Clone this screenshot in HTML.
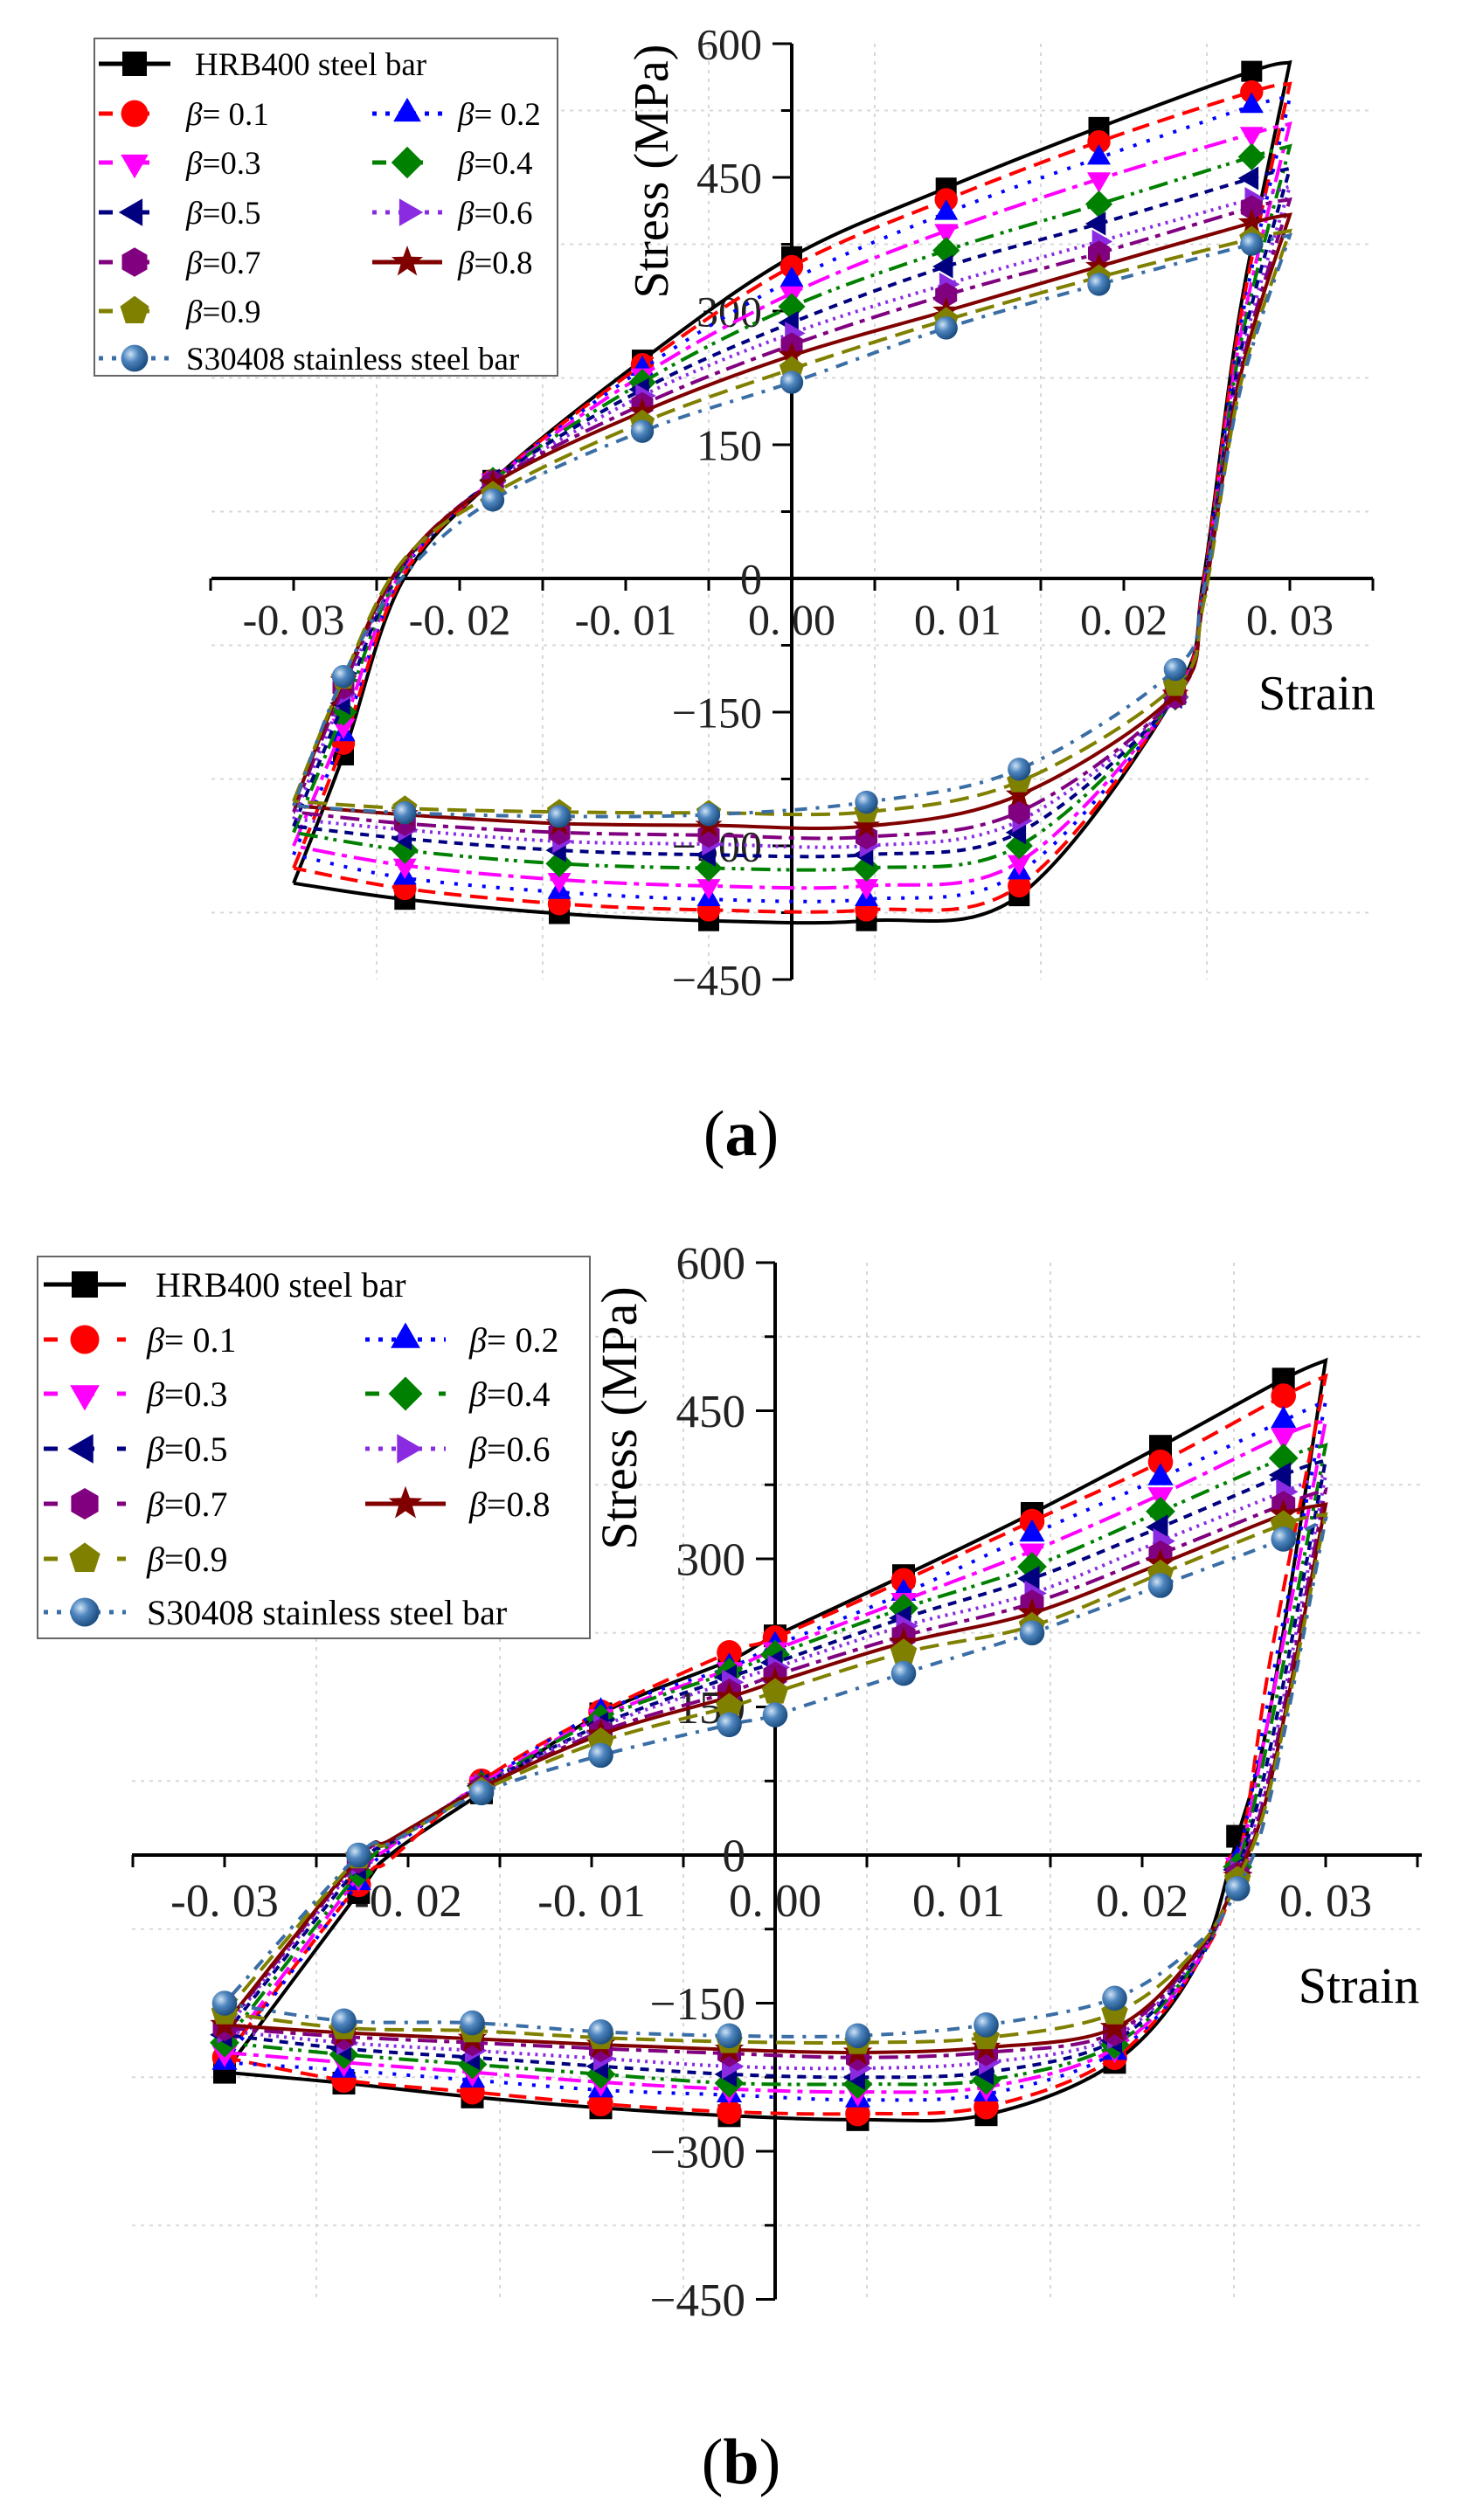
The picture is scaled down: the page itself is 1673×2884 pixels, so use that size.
<!DOCTYPE html>
<html><head><meta charset="utf-8"><style>
html,body{margin:0;padding:0;background:#fff;}
svg{display:block;font-family:"Liberation Serif",serif;}
</style></head><body>
<svg id="fig" width="1673" height="2884" viewBox="0 0 1673 2884" xmlns="http://www.w3.org/2000/svg">
<defs>
<radialGradient id="sph" cx="35%" cy="35%" r="65%"><stop offset="0" stop-color="#cfe3f5"/><stop offset="0.45" stop-color="#4f86bf"/><stop offset="1" stop-color="#1d4f82"/></radialGradient>
</defs>
<g id="pa"></g>
<g id="pb"></g>
<text x="848" y="1322" font-size="74" text-anchor="middle">(<tspan font-weight="bold">a</tspan>)</text>
<text x="848" y="2842" font-size="74" text-anchor="middle">(<tspan font-weight="bold">b</tspan>)</text>
</svg>
<script>
const seriesNames=["HRB400 steel bar","β= 0.1","β= 0.2","β=0.3","β=0.4","β=0.5","β=0.6","β=0.7","β=0.8","β=0.9","S30408 stainless steel bar"];
const xTickLabels=["-0. 03","-0. 02","-0. 01","0. 00","0. 01","0. 02","0. 03"];
const xTickValues=[-0.03,-0.02,-0.01,0,0.01,0.02,0.03];
const yTickValues=[600,450,300,150,0,-150,-300,-450];
// panel a
const aUpStrain=[-0.03,-0.027,-0.0235,-0.018,-0.009,0,0.0093,0.0185,0.0277,0.03];
const aUp=[
[-342,-198,-5,110,245,361,438,506,569,579],
[-325,-185,0,110,240,350,425,490,546,555],
[-310,-175,5,110,235,335,410,472,530,540],
[-300,-165,8,110,228,320,390,448,499,510],
[-285,-150,10,110,220,305,368,420,473,485],
[-278,-140,12,110,212,287,350,398,449,460],
[-270,-130,14,108,205,275,330,378,426,440],
[-262,-122,15,108,195,262,318,365,416,425],
[-255,-115,16,106,187,250,300,350,399,408],
[-250,-112,18,95,175,235,290,338,381,390],
[-255,-110,0,88,165,220,281,330,375,385]];
const aLoStrain=[0.03,0.027,0.0248,0.0231,0.0137,0.0045,-0.005,-0.014,-0.0233,-0.03];
const aLo=[
[579,300,0,-130,-356,-384,-384,-376,-360,-342],
[555,290,-5,-130,-345,-372,-372,-365,-348,-325],
[540,280,-10,-132,-330,-360,-360,-352,-336,-310],
[510,270,-12,-132,-318,-345,-345,-338,-322,-300],
[485,260,-15,-133,-300,-325,-325,-320,-305,-285],
[460,250,-18,-133,-285,-310,-310,-305,-292,-278],
[440,240,-20,-133,-272,-300,-298,-295,-282,-270],
[425,230,-22,-133,-262,-290,-288,-285,-275,-262],
[408,225,-25,-130,-243,-278,-277,-275,-265,-255],
[390,215,-28,-120,-228,-262,-263,-262,-258,-250],
[385,210,-15,-102,-214,-251,-265,-267,-263,-255]];
// panel b
const bUpStrain=[-0.03,-0.0227,-0.021,-0.016,-0.0095,-0.0025,0,0.007,0.014,0.021,0.0277,0.03];
const bUp=[
[-220,-38,0,63,143,197,222,283,346,414,482,501],
[-205,-30,-5,75,145,205,220,278,338,398,465,485],
[-210,-28,5,72,145,190,212,265,325,382,440,460],
[-200,-22,8,72,140,188,208,258,308,365,425,440],
[-190,-18,10,70,138,185,203,250,292,348,402,415],
[-182,-12,12,70,132,180,195,240,280,332,385,400],
[-178,-8,13,70,130,175,190,232,265,318,368,385],
[-175,-5,14,68,125,165,182,222,255,305,355,370],
[-172,-3,15,68,122,160,175,215,245,295,345,355],
[-160,-2,12,65,115,150,165,205,232,285,335,345],
[-150,0,12,63,101,132,142,184,225,273,320,340]];
const bLoStrain=[0.03,0.027,0.0252,0.023,0.0185,0.0115,0.0045,-0.0025,-0.0095,-0.0165,-0.0235,-0.03];
const bLo=[
[501,150,19,-110,-210,-263,-268,-264,-256,-245,-231,-220],
[485,200,-10,-110,-205,-255,-262,-260,-252,-240,-228,-205],
[460,170,-5,-110,-200,-242,-248,-243,-238,-228,-218,-210],
[440,150,-10,-108,-196,-235,-240,-237,-230,-220,-210,-200],
[415,130,-12,-106,-192,-228,-232,-231,-222,-212,-202,-190],
[400,110,-15,-104,-188,-220,-225,-222,-214,-205,-196,-182],
[385,95,-18,-102,-184,-210,-216,-214,-206,-198,-190,-178],
[370,85,-20,-100,-180,-200,-205,-201,-196,-190,-184,-175],
[355,75,-22,-98,-175,-195,-200,-197,-192,-186,-180,-172],
[345,70,-25,-95,-160,-185,-190,-189,-185,-178,-175,-160],
[340,60,-34,-90,-145,-172,-183,-183,-179,-170,-168,-150]];

const colors=["#000000","#ff0000","#0000ff","#ff00ff","#008000","#000080","#8a2be2","#800080","#800000","#808000","#3a6ea5"];
const dashes=["","20,10","4,12","26,8,6,8","22,8,4,6,4,8","10,8","3,6","22,8,6,8","","22,10","4,10,14,10"];
const markers=["square","circle","tri-up","tri-down","diamond","tri-left","tri-right","hexagon","star","pentagon","sphere"];
const NS="http://www.w3.org/2000/svg";
function mk(tag,attrs,parent){const e=document.createElementNS(NS,tag);for(const k in attrs)e.setAttribute(k,attrs[k]);if(parent)parent.appendChild(e);return e;}
function smooth(pts){let d="M"+pts[0][0].toFixed(1)+","+pts[0][1].toFixed(1);
 for(let i=0;i<pts.length-1;i++){const p0=pts[Math.max(0,i-1)],p1=pts[i],p2=pts[i+1],p3=pts[Math.min(pts.length-1,i+2)];
 const c1=[p1[0]+(p2[0]-p0[0])/6,p1[1]+(p2[1]-p0[1])/6],c2=[p2[0]-(p3[0]-p1[0])/6,p2[1]-(p3[1]-p1[1])/6];
 d+=" C"+c1[0].toFixed(1)+","+c1[1].toFixed(1)+" "+c2[0].toFixed(1)+","+c2[1].toFixed(1)+" "+p2[0].toFixed(1)+","+p2[1].toFixed(1);}return d;}
function marker(g,type,x,y,c,s){let e;
 const poly=(n,rot,r)=>{let p=[];for(let i=0;i<n;i++){const a=rot+i*2*Math.PI/n;p.push((x+r*Math.cos(a)).toFixed(1)+","+(y+r*Math.sin(a)).toFixed(1));}return p.join(" ");};
 if(type=="square")e=mk("rect",{x:x-s*0.5,y:y-s*0.5,width:s,height:s,fill:c},g);
 else if(type=="circle")e=mk("circle",{cx:x,cy:y,r:s*0.55,fill:c},g);
 else if(type=="sphere")e=mk("circle",{cx:x,cy:y,r:s*0.55,fill:"url(#sph)"},g);
 else if(type=="tri-up")e=mk("polygon",{points:poly(3,-Math.PI/2,s*0.65),fill:c},g);
 else if(type=="tri-down")e=mk("polygon",{points:poly(3,Math.PI/2,s*0.65),fill:c},g);
 else if(type=="tri-left")e=mk("polygon",{points:poly(3,Math.PI,s*0.65),fill:c},g);
 else if(type=="tri-right")e=mk("polygon",{points:poly(3,0,s*0.65),fill:c},g);
 else if(type=="diamond")e=mk("polygon",{points:poly(4,0,s*0.65),fill:c},g);
 else if(type=="hexagon")e=mk("polygon",{points:poly(6,-Math.PI/2,s*0.6),fill:c},g);
 else if(type=="pentagon")e=mk("polygon",{points:poly(5,-Math.PI/2,s*0.62),fill:c},g);
 else if(type=="star"){let p=[];for(let i=0;i<10;i++){const r=i%2?s*0.28:s*0.68,a=-Math.PI/2+i*Math.PI/5;p.push((x+r*Math.cos(a)).toFixed(1)+","+(y+r*Math.sin(a)).toFixed(1));}e=mk("polygon",{points:p.join(" "),fill:c},g);}
 return e;}

function drawPanel(g,cfg){
 const X=v=>cfg.x0+v/0.01*cfg.px01, Y=v=>cfg.y0-v/150*cfg.py150;
 const grid=mk("g",{},g);
 for(let v=-375;v<=525;v+=150){mk("line",{x1:cfg.xl,x2:cfg.xr,y1:Y(v),y2:Y(v),stroke:"#d8d8d8","stroke-width":2,"stroke-dasharray":"4,6"},grid);}
 for(let v=-0.025;v<=0.026;v+=0.01){mk("line",{x1:X(v),x2:X(v),y1:Y(600),y2:Y(-450),stroke:"#d8d8d8","stroke-width":2,"stroke-dasharray":"4,6"},grid);}
 const ax=mk("g",{},g);
 mk("line",{x1:cfg.xl,x2:cfg.xr,y1:cfg.y0,y2:cfg.y0,stroke:"#000","stroke-width":4},ax);
 for(let v=-0.035;v<=0.0351;v+=0.005){mk("line",{x1:X(v),x2:X(v),y1:cfg.y0,y2:cfg.y0+14,stroke:"#000","stroke-width":3},ax);}
 xTickValues.forEach((v,i)=>{const t=mk("text",{x:X(v),y:cfg.y0+cfg.xlabOff,"font-size":cfg.fs,"text-anchor":"middle",fill:"#222"},ax);t.textContent=xTickLabels[i];
  });
 const ay=mk("g",{},g);
 mk("line",{x1:cfg.x0,x2:cfg.x0,y1:Y(600),y2:Y(-450),stroke:"#000","stroke-width":4},ay);
 for(let v=-450;v<=600;v+=75){const maj=v%150==0;mk("line",{x1:cfg.x0,x2:cfg.x0-(maj?22:12),y1:Y(v),y2:Y(v),stroke:"#000","stroke-width":3},ay);}
 yTickValues.forEach(v=>{const t=mk("text",{x:cfg.x0-34,y:Y(v)+cfg.fs*0.35,"font-size":cfg.fs,"text-anchor":"end",fill:"#222"},ay);t.textContent=(v<0?"−":"")+Math.abs(v);
  });
 const yt=mk("text",{x:cfg.ytx,y:cfg.yty,"font-size":cfg.tfs,"text-anchor":"middle",transform:"rotate(-90 "+cfg.ytx+" "+cfg.yty+")"},g);yt.textContent="Stress (MPa)";
 
 const xt=mk("text",{x:cfg.xtx,y:cfg.xty,"font-size":cfg.tfs,"text-anchor":"middle"},g);xt.textContent="Strain";
 
 for(let k=0;k<11;k++){
  const sg=mk("g",{},g);
  const up=cfg.us.map((s,i)=>[X(s),Y(cfg.u[k][i])]);const lo=cfg.ls.map((s,i)=>[X(s),Y(cfg.l[k][i])]);
  const attrs={d:smooth(up)+" "+smooth(lo).replace("M","L"),fill:"none",stroke:colors[k],"stroke-width":4};
  if(dashes[k])attrs["stroke-dasharray"]=dashes[k];
  const p=mk("path",attrs,sg);
  cfg.umk.forEach(i=>{const m=marker(sg,markers[k],up[i][0],up[i][1],colors[k],cfg.ms);});
  cfg.lmk.forEach(i=>{const m=marker(sg,markers[k],lo[i][0],lo[i][1],colors[k],cfg.ms);});
 }
 const L=cfg.leg;const lg=mk("g",{},g);
 mk("rect",{x:L.x,y:L.y,width:L.w,height:L.h,fill:"#fff",stroke:"#666","stroke-width":2},lg);
 const pos=[[0,0],[0,1],[1,1],[0,2],[1,2],[0,3],[1,3],[0,4],[1,4],[0,5],[0,6]];
 pos.forEach((pp,k)=>{const col=pp[0],row=pp[1];const cy=L.rows[row];
  const e=mk("g",{},lg);
  const lx=col?L.c2:L.c1;const la={x1:lx[0],x2:lx[1],y1:cy,y2:cy,stroke:colors[k],"stroke-width":5};if(dashes[k])la["stroke-dasharray"]=k==2||k==6||k==10?"5,10":"16,26";
  mk("line",la,e);marker(e,markers[k],(lx[0]+lx[1])/2,cy,colors[k],L.ms);
  const tx=(col?L.t2:L.t1)+(k==0?10:0);
  const t=mk("text",{x:tx,y:cy+L.fs*0.35,"font-size":L.fs},e);
  if(k==0||k==10)t.textContent=seriesNames[k];else{const b=mk("tspan",{"font-style":"italic"},t);b.textContent="β";const r=mk("tspan",{},t);r.textContent=seriesNames[k].slice(1);}
 });
}
drawPanel(document.getElementById("pa"),{x0:906,y0:662,px01:190,py150:153,xl:242,xr:1571,xlabOff:64,ytx:764,yty:196,xtx:1507,xty:812,fs:50,tfs:56,ms:24,
 us:aUpStrain,u:aUp,ls:aLoStrain,l:aLo,umk:[1,3,4,5,6,7,8],lmk:[3,4,5,6,7,8],
 leg:{x:108,y:44,w:530,h:386,rows:[73,130,186,243,300,356,410],c1:[113,195],c2:[426,506],t1:213,t2:524,fs:37,ms:28}});
drawPanel(document.getElementById("pb"),{x0:887,y0:2123,px01:210,py150:169.5,xl:151,xr:1627,xlabOff:70,ytx:728,yty:1623,xtx:1555,xty:2292,fs:53,tfs:58,ms:26,
 us:bUpStrain,u:bUp,ls:bLoStrain,l:bLo,umk:[1,3,4,5,6,7,8,9,10],lmk:[2,4,5,6,7,8,9,10,11],
 leg:{x:43,y:1438,w:632,h:437,rows:[1470,1533,1595,1658,1721,1784,1845],c1:[50,144],c2:[418,510],t1:168,t2:537,fs:40,ms:30}});
</script>
</body></html>
